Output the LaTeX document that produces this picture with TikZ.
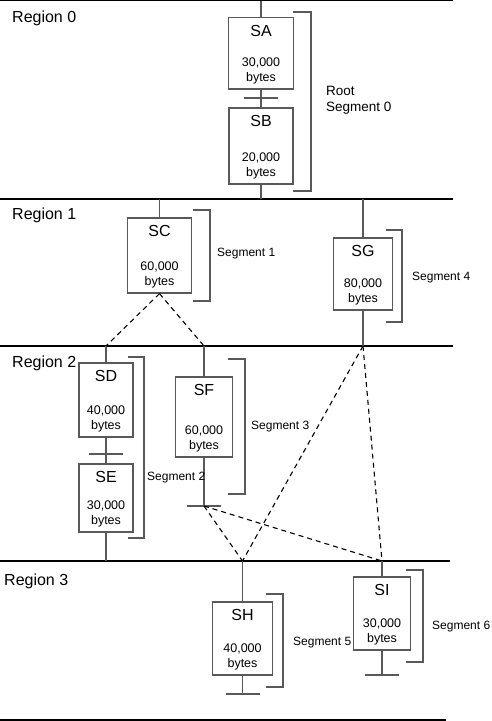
\documentclass[tikz,border=0pt]{standalone}
\usepackage{fontspec}
\setmainfont{Liberation Sans}
\usepackage{tikz}
\definecolor{linegray}{gray}{0.35}
\tikzstyle{region} = [anchor=west, inner sep=0pt, font=\fontsize{16}{19}\selectfont]
\tikzstyle{segbox} = [rectangle, draw=linegray, line width=1.2pt, inner sep=0pt]
\tikzstyle{segname} = [anchor=north, inner sep=0pt, yshift=-8pt, font=\fontsize{16}{19}\selectfont]
\tikzstyle{segsize} = [anchor=south, inner sep=0pt, yshift=5pt, align=center, font=\fontsize{12.5}{15}\selectfont]
\tikzstyle{seglabel} = [anchor=west, inner sep=0pt, align=left, font=\fontsize{12}{14}\selectfont]
\tikzstyle{bus} = [line width=1.5pt, black]
\tikzstyle{link} = [line width=1.2pt, draw=linegray]
\tikzstyle{brace} = [line width=1.2pt, draw=linegray]
\tikzstyle{pointer} = [line width=1.1pt, dash pattern=on 5pt off 4pt]
\begin{document}
\begin{tikzpicture}[x=1pt, y=-1pt]
\useasboundingbox (0,0) rectangle (492,721);

% region boundaries
\coordinate (bus0) at (0,0.5);
\coordinate (bus1) at (0,199);
\coordinate (bus2) at (0,346);
\coordinate (bus3) at (0,561);
\coordinate (bus4) at (0,720);
\draw [bus] (bus0) -- +(453,0);
\draw [bus] (bus1) -- +(453,0);
\draw [bus] (bus2) -- +(453,0);
\draw [bus] (bus3) -- +(450,0);
\draw [bus] (bus4) -- +(446,0);

\node (reg0) [region] at (12,18) {Region 0};
\node (reg1) [region] at (12,215) {Region 1};
\node (reg2) [region] at (12,363) {Region 2};
\node (reg3) [region] at (4,581) {Region 3};

% segments
\node (SA) [segbox, minimum width=65pt, minimum height=71.5pt] at (261,53.25) {};
\node (SAname) [segname] at (SA.north) {SA};
\node (SAsize) [segsize] at (SA.south) {30,000\\bytes};
\node (SB) [segbox, minimum width=64pt, minimum height=76pt] at (261,146) {};
\node (SBname) [segname] at (SB.north) {SB};
\node (SBsize) [segsize] at (SB.south) {20,000\\bytes};
\node (SC) [segbox, minimum width=64pt, minimum height=75pt] at (159.5,255.5) {};
\node (SCname) [segname] at (SC.north) {SC};
\node (SCsize) [segsize] at (SC.south) {60,000\\bytes};
\node (SG) [segbox, minimum width=59pt, minimum height=72pt] at (363,274) {};
\node (SGname) [segname] at (SG.north) {SG};
\node (SGsize) [segsize] at (SG.south) {80,000\\bytes};
\node (SD) [segbox, minimum width=54pt, minimum height=74pt] at (106,400) {};
\node (SDname) [segname] at (SD.north) {SD};
\node (SDsize) [segsize] at (SD.south) {40,000\\bytes};
\node (SE) [segbox, minimum width=54pt, minimum height=68pt] at (106,498) {};
\node (SEname) [segname] at (SE.north) {SE};
\node (SEsize) [segsize] at (SE.south) {30,000\\bytes};
\node (SF) [segbox, minimum width=57pt, minimum height=80pt] at (204,417) {};
\node (SFname) [segname] at (SF.north) {SF};
\node (SFsize) [segsize] at (SF.south) {60,000\\bytes};
\node (SH) [segbox, minimum width=60pt, minimum height=73pt] at (242.5,638.5) {};
\node (SHname) [segname] at (SH.north) {SH};
\node (SHsize) [segsize] at (SH.south) {40,000\\bytes};
\node (SI) [segbox, minimum width=57pt, minimum height=73pt] at (382,613.5) {};
\node (SIname) [segname] at (SI.north) {SI};
\node (SIsize) [segsize] at (SI.south) {30,000\\bytes};

% line ends and ticks
\coordinate (SAB) at (261,98);
\coordinate (SDE) at (106,454);
\coordinate (SFend) at (204,506);
\coordinate (SHend) at (242.5,694);
\coordinate (SIend) at (382,675);

\draw [link] (SA.north) -- (SA.north |- bus0);
\draw [link] (SA.south) -- (SB.north);
\draw [link] ([xshift=-17pt]SAB) -- ([xshift=17pt]SAB);
\draw [link] (SB.south) -- (SB.south |- bus1);
\draw [link] (SC.north) -- (SC.north |- bus1);
\draw [link, line width=1.6pt] ([xshift=-17pt]SC.south) -- ([xshift=17pt]SC.south);
\draw [link] (SG.north) -- (SG.north |- bus1);
\draw [link] (SG.south) -- (SG.south |- bus2);
\draw [link] (SD.north) -- (SD.north |- bus2);
\draw [link] (SD.south) -- (SE.north);
\draw [link] ([xshift=-17pt]SDE) -- ([xshift=17pt]SDE);
\draw [link] (SE.south) -- (SE.south |- bus3);
\draw [link] (SF.north) -- (SF.north |- bus2);
\draw [link] (SF.south) -- (SFend);
\draw [link] ([xshift=-17pt]SFend) -- ([xshift=17pt]SFend);
\draw [link] (SH.north) -- (SH.north |- bus3);
\draw [link] (SH.south) -- (SHend);
\draw [link] ([xshift=-17pt]SHend) -- ([xshift=17pt]SHend);
\draw [link] (SI.north) -- (SI.north |- bus3);
\draw [link] (SI.south) -- (SIend);
\draw [link] ([xshift=-17pt]SIend) -- ([xshift=17pt]SIend);

% pointers
\draw [pointer] (SC.south) -- (SD.north |- bus2);
\draw [pointer] (SC.south) -- (SF.north |- bus2);
\draw [pointer] (SG.south |- bus2) -- (SH.north |- bus3);
\draw [pointer] (SG.south |- bus2) -- (SI.north |- bus3);
\draw [pointer] (SFend) -- (SH.north |- bus3);
\draw [pointer] (SFend) -- (SI.north |- bus3);

% segment brackets
\draw [brace] (293,12) -- (311,12) -- (311,191) -- (293,191);
\draw [brace] (193,210) -- (210,210) -- (210,301) -- (193,301);
\draw [brace] (386,230) -- (402,230) -- (402,322) -- (386,322);
\draw [brace] (128,357) -- (144,357) -- (144,538) -- (128,538);
\draw [brace] (228,359) -- (245,359) -- (245,494) -- (228,494);
\draw [brace] (266,594) -- (283,594) -- (283,687) -- (266,687);
\draw [brace] (406,570) -- (423,570) -- (423,662) -- (406,662);

\node (seg0) [seglabel, font=\fontsize{13.5}{16}\selectfont] at (326,100) {Root\\Segment 0};
\node (seg1) [seglabel] at (217,254) {Segment 1};
\node (seg4) [seglabel] at (412,278) {Segment 4};
\node (seg2) [seglabel] at (147,478) {Segment 2};
\node (seg3) [seglabel] at (251,427) {Segment 3};
\node (seg5) [seglabel] at (293,643) {Segment 5};
\node (seg6) [seglabel] at (432,627) {Segment 6};

\end{tikzpicture}
\end{document}
